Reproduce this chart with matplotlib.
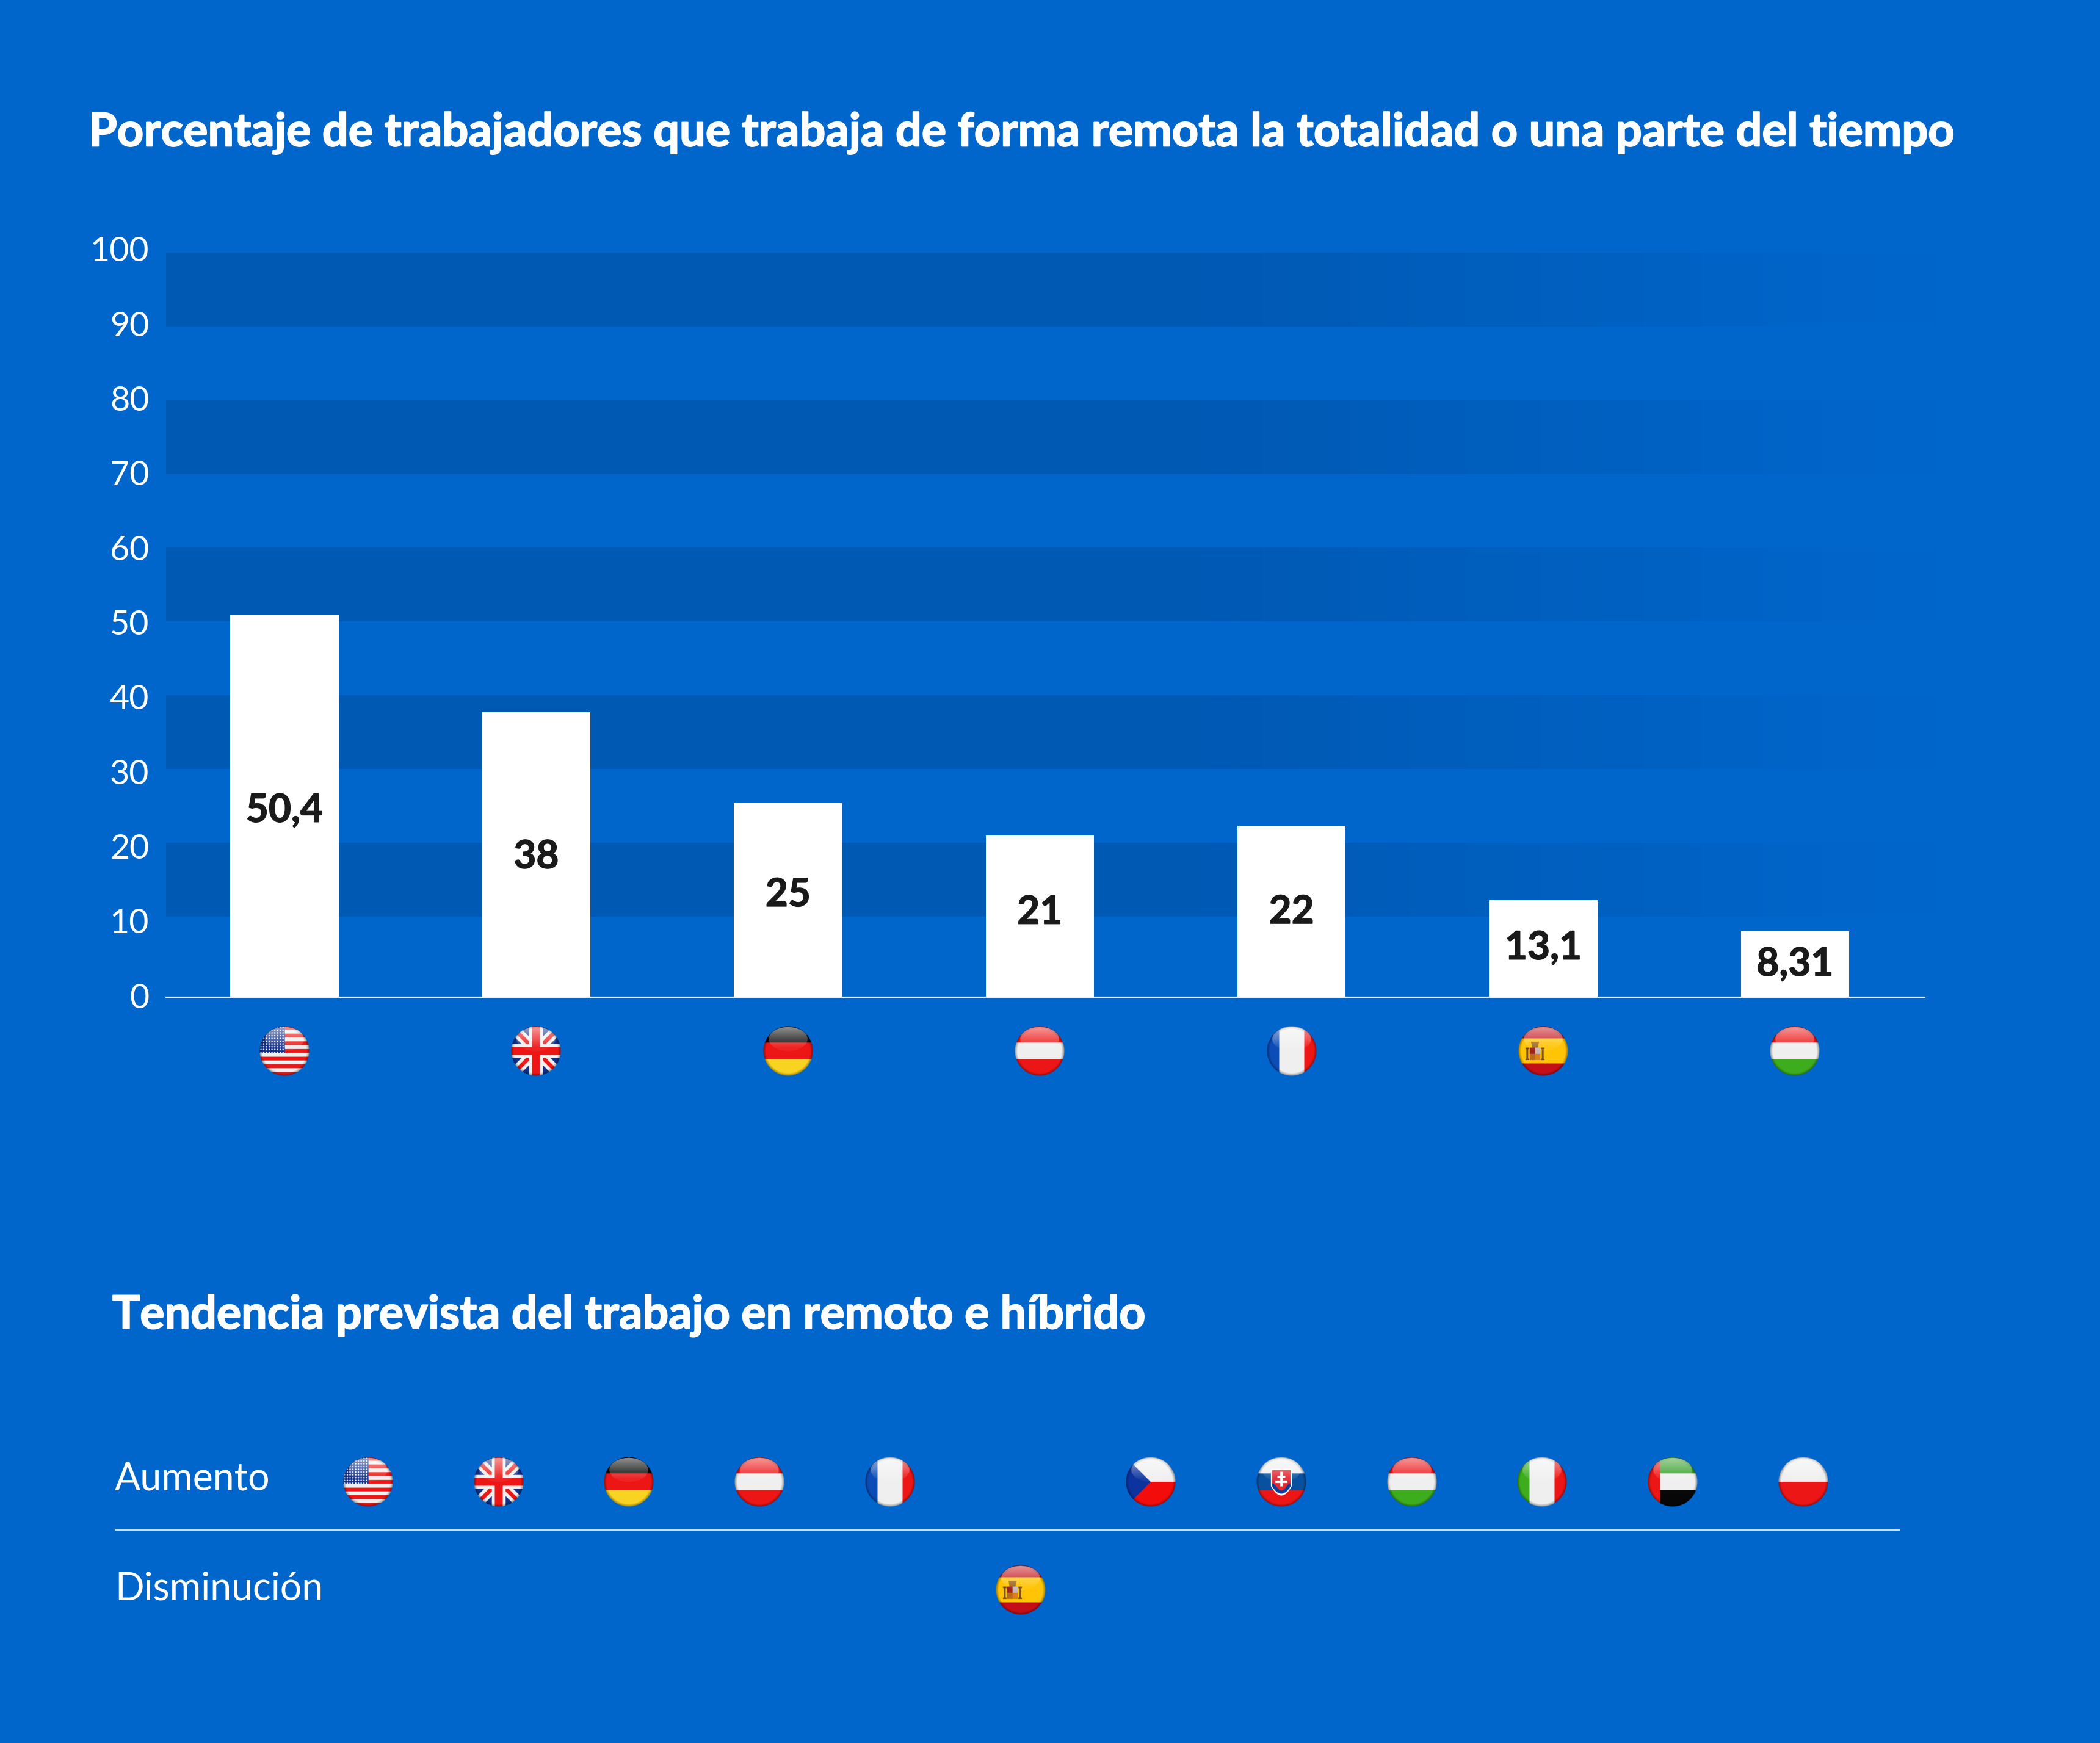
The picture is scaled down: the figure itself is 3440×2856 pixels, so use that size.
"""Trabajo en remoto: bar chart by country plus the trend row with round flags."""
import matplotlib
matplotlib.use("Agg")
import matplotlib.patheffects as pe
import matplotlib.pyplot as plt
from matplotlib.transforms import ScaledTranslation
import numpy as np

BG = "#0066cc"
BAND = np.array([0x00, 0x59, 0xb3]) / 255
INK = "#1a1a1a"

plt.rcParams["font.family"] = ["Lato", "Carlito", "DejaVu Sans"]

COUNTRIES = ["us", "gb", "de", "at", "fr", "es", "hu"]
BAR_HEIGHTS = [51.2, 38.2, 26.0, 21.7, 23.0, 13.0, 8.8]
BAR_LABELS = ["50,4", "38", "25", "21", "22", "13,1", "8,31"]
Y_TICKS = [0, 10, 20, 30, 40, 50, 60, 70, 80, 90, 100]

TREND_COUNTRIES = ["us", "gb", "de", "at", "fr", "es", "cz", "sk", "hu", "it", "ae", "pl"]
TREND_ROWS = [0, 0, 0, 0, 0, 1, 0, 0, 0, 0, 0, 0]
TREND_NAMES = ["Aumento", "Disminución"]

TITLE = "Porcentaje de trabajadores que trabaja de forma remota la totalidad o una parte del tiempo"
SUBTITLE = "Tendencia prevista del trabajo en remoto e híbrido"

W, H = 3440, 2856
FLAG_R = 41

RED = (0.93, 0.09, 0.09)
WHITE = (0.94, 0.94, 0.94)
NAVY = (0.07, 0.19, 0.55)
BLACK = (0.03, 0.03, 0.03)
GREEN = (0.24, 0.68, 0.12)


def h_stripes(v, colors, edges):
    img = np.zeros(v.shape + (3,))
    img[:] = colors[-1]
    for col, edge in reversed(list(zip(colors[:-1], edges))):
        img[v < edge] = col
    return img


def flag_image(code, n=240):
    """Round glossy flag as an RGBA array. u goes right, v goes down, both -1..1."""
    u, v = np.meshgrid(np.linspace(-1, 1, n), np.linspace(-1, 1, n))
    third = 1 / 3
    if code == "us":
        img = h_stripes(v, [RED, WHITE] * 6 + [RED], list(np.arange(1, 13) / 13 * 2 - 1))
        canton = (u < 0.02) & (v < 0.08)
        img[canton] = NAVY
        su, sv = (u * 9) % 1, (v * 9) % 1
        star = (su - 0.5) ** 2 + (sv - 0.5) ** 2 < 0.07
        img[canton & star] = (1, 1, 1)
    elif code == "gb":
        img = np.zeros(u.shape + (3,))
        img[:] = NAVY
        img[np.minimum(abs(u - v), abs(u + v)) < 0.3] = WHITE
        img[np.minimum(abs(u - v), abs(u + v)) < 0.11] = RED
        img[(abs(u) < 0.28) | (abs(v) < 0.28)] = WHITE
        img[(abs(u) < 0.16) | (abs(v) < 0.16)] = RED
    elif code == "de":
        img = h_stripes(v, [BLACK, RED, (0.98, 0.83, 0.13)], [-third, third])
    elif code == "at":
        img = h_stripes(v, [RED, WHITE, RED], [-third, third])
    elif code == "fr":
        img = h_stripes(u, [(0.05, 0.3, 0.72), WHITE, RED], [-0.5, 0.5])
    elif code == "es":
        img = h_stripes(v, [(0.77, 0.06, 0.1), (1.0, 0.77, 0.02), (0.77, 0.06, 0.1)], [-0.5, 0.5])
        # rough coat of arms: two pillars, crown, quartered shield
        us = u + 0.33
        vs = v - 0.12
        img[(abs(abs(us) - 0.31) < 0.04) & (abs(vs) < 0.25)] = (0.5, 0.33, 0.1)
        img[(abs(abs(us) - 0.31) < 0.07) & (abs(abs(vs) - 0.22) < 0.03)] = (0.45, 0.28, 0.08)
        crown = (abs(us) < 0.12 - (v + 0.12) * 0.15) & (v > -0.37) & (v < -0.12)
        img[crown] = (0.62, 0.4, 0.1)
        shield = (abs(us) < 0.21) & (abs(vs) < 0.25)
        img[shield & (us < 0) & (vs < 0)] = (0.62, 0.14, 0.12)
        img[shield & (us >= 0) & (vs < 0)] = (0.78, 0.72, 0.72)
        img[shield & (us < 0) & (vs >= 0)] = (0.72, 0.42, 0.1)
        img[shield & (us >= 0) & (vs >= 0)] = (0.85, 0.5, 0.1)
    elif code == "hu":
        img = h_stripes(v, [RED, WHITE, GREEN], [-third, third])
    elif code == "cz":
        img = h_stripes(v, [WHITE, (0.95, 0.05, 0.05)], [0.0])
        img[u + 1 < 1 - abs(v)] = (0.05, 0.2, 0.62)
    elif code == "sk":
        img = h_stripes(v, [WHITE, (0.03, 0.32, 0.62), RED], [-third, third])
        edge = 0.55 - 0.9 * abs(u) ** 2 / 0.42 ** 2 * 0.42
        shield = (abs(u) < 0.42) & (v > -0.52) & (v < edge)
        img[shield] = (1, 1, 1)
        inner = (abs(u) < 0.37) & (v > -0.47) & (v < edge - 0.07)
        img[inner] = (0.88, 0.16, 0.2)
        hills = inner & (v > 0.2 + 0.15 * np.cos(u * 8))
        img[hills] = (0.05, 0.25, 0.62)
        cross = (abs(u) < 0.05) & (v > -0.4) & (v < 0.18)
        cross |= (abs(u) < 0.16) & (abs(v + 0.2) < 0.045)
        cross |= (abs(u) < 0.24) & (abs(v + 0.0) < 0.05)
        img[cross & ~hills] = (1, 1, 1)
    elif code == "it":
        img = h_stripes(u, [GREEN, WHITE, RED], [-0.5, 0.5])
    elif code == "ae":
        img = h_stripes(v, [(0.2, 0.62, 0.15), WHITE, BLACK], [-third, third])
        img[u < -0.5] = RED
    else:
        img = h_stripes(v, [WHITE, RED], [0.0])

    r = np.hypot(u, v)
    # darker rim
    rim = np.clip((r - 0.88) / 0.12, 0, 1)[..., None]
    img = img * (1 - 0.4 * rim)
    # gloss on the upper half
    gloss = ((u / 0.78) ** 2 + ((v + 0.48) / 0.48) ** 2) < 1
    amount = np.clip(0.55 - (v + 0.95) * 0.6, 0.06, 0.55)[..., None]
    img = np.where(gloss[..., None], img * (1 - amount) + amount, img)
    alpha = np.clip((1 - r) * n / 4, 0, 1)
    return np.dstack([img, alpha])


def draw_flag(canvas, code, cx, cy):
    canvas.imshow(flag_image(code), extent=(cx - FLAG_R, cx + FLAG_R, cy - FLAG_R, cy + FLAG_R),
                  origin="upper", interpolation="antialiased", zorder=5)


def main():
    fig = plt.figure(figsize=(W / 100, H / 100), dpi=100, facecolor=BG)

    # Bar chart
    left, right, bottom, top = 272, 3153, H - 1634, H - 411
    ax = fig.add_axes([left / W, bottom / H, (right - left) / W, (top - bottom) / H])
    ax.set_facecolor("none")
    x = np.arange(len(COUNTRIES))
    ax.set_xlim((left - 466) / 412.4, (right - 466) / 412.4)
    ax.set_ylim(0, 100)

    # alternating bands, fading out towards the right
    fade = np.clip((3180 - np.linspace(272, 3180, 400)) / 1250, 0, 1)
    band = np.zeros((1, 400, 4))
    band[..., :3] = BAND
    band[..., 3] = fade
    x_end = (3180 - 466) / 412.4
    for i in range(5):
        y_top = 99.75 - 19.76 * i
        ax.imshow(band, extent=(ax.get_xlim()[0], x_end, y_top - 9.88, y_top),
                  aspect="auto", zorder=1, clip_on=False)
    ax.set_xlim((left - 466) / 412.4, (right - 466) / 412.4)
    ax.set_ylim(0, 100)

    ax.bar(x, BAR_HEIGHTS, width=0.43, color="white", zorder=2)
    nudges = [-0.6, -0.3, 0.7, 0.5, -0.1, 0.1, 0.0]
    heavy_ink = [pe.withStroke(linewidth=1.0, foreground=INK)]
    for xi, h, label, nudge in zip(x, BAR_HEIGHTS, BAR_LABELS, nudges):
        ax.text(xi, h / 2 + nudge, label, ha="center", va="center", color=INK,
                fontsize=46, fontweight="bold", zorder=3, path_effects=heavy_ink)

    for side in ["top", "left", "right"]:
        ax.spines[side].set_visible(False)
    ax.spines["bottom"].set_color("#e6f0fa")
    ax.spines["bottom"].set_linewidth(1.6)
    ax.spines["bottom"].set_zorder(2)
    ax.set_xticks([])
    ax.set_yticks(Y_TICKS)
    ax.tick_params(axis="y", length=0, pad=20, labelcolor="white", labelsize=40)
    # tick labels sit a touch above their gridline in the original
    lift = ScaledTranslation(0, 3 / 100, fig.dpi_scale_trans)
    for lbl in ax.get_yticklabels():
        lbl.set_transform(lbl.get_transform() + lift)

    # Pixel canvas for flags and the free text
    canvas = fig.add_axes([0, 0, 1, 1], facecolor="none")
    canvas.set_axis_off()

    for xi, code in zip(x, COUNTRIES):
        px = ax.transData.transform((xi, 0))[0]
        draw_flag(canvas, code, px, H - 1722)

    # Trend rows share one category axis: 12 slots, 2 rows
    row_y = [H - 2428, H - 2605]
    for i, (code, row) in enumerate(zip(TREND_COUNTRIES, TREND_ROWS)):
        draw_flag(canvas, code, 603 + 213.7 * i, row_y[row])

    canvas.set_xlim(0, W)
    canvas.set_ylim(0, H)

    heavy = [pe.withStroke(linewidth=1.4, foreground="white")]
    canvas.text(145, H - 218, TITLE, color="white", fontsize=54.5, fontweight="bold",
                va="center", path_effects=heavy)
    canvas.text(184, H - 2156, SUBTITLE, color="white", fontsize=54.3, fontweight="bold",
                va="center", path_effects=heavy)
    canvas.text(188, H - 2423, TREND_NAMES[0], color="white", fontsize=45, va="center")
    canvas.text(188, H - 2603, TREND_NAMES[1], color="white", fontsize=45, va="center")
    canvas.plot([189, 3111], [H - 2507, H - 2507], color="#c9dff3", lw=1.5)

    fig.savefig("out.png", dpi=100, facecolor=BG)


if __name__ == "__main__":
    main()
